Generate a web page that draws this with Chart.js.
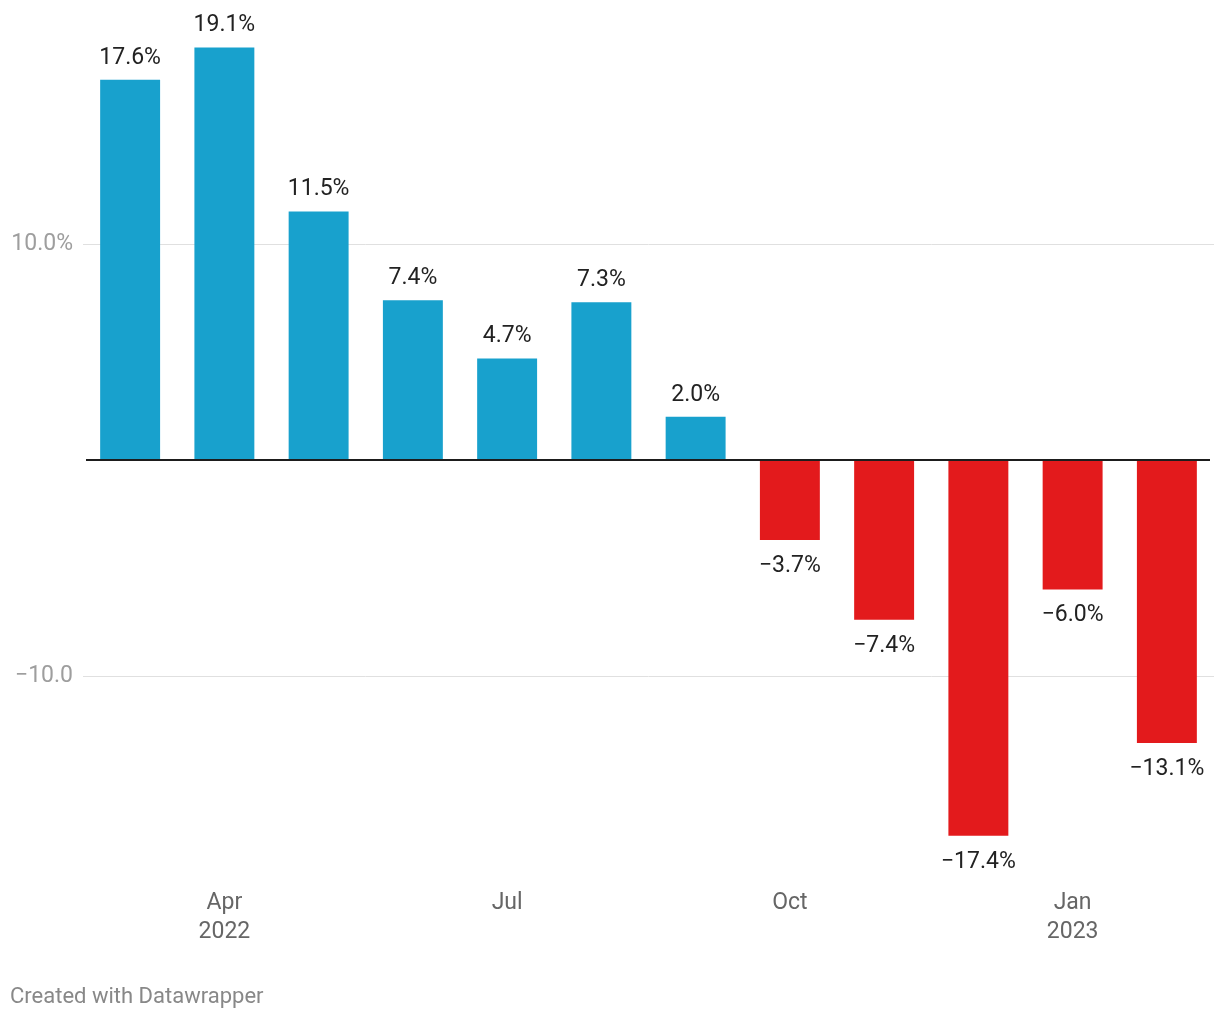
<!DOCTYPE html>
<html>
<head>
<meta charset="utf-8">
<script src="https://cdn.jsdelivr.net/npm/chart.js@4"></script>
<style>
  html, body { margin: 0; padding: 0; background: #fff; }
  #wrap { position: relative; width: 1220px; height: 1020px; }
</style>
</head>
<body>
<div id="wrap"><canvas id="changeChart" width="1220" height="1020"></canvas></div>
<script>
// Monthly change, Mar 2022 - Feb 2023
const months = ['Mar 2022', 'Apr 2022', 'May 2022', 'Jun 2022', 'Jul 2022', 'Aug 2022',
    'Sep 2022', 'Oct 2022', 'Nov 2022', 'Dec 2022', 'Jan 2023', 'Feb 2023'];
const changes = [17.6, 19.1, 11.5, 7.4, 4.7, 7.3, 2.0, -3.7, -7.4, -17.4, -6.0, -13.1];
const xTickLabels = ['', ['Apr', '2022'], '', '', 'Jul', '', '', 'Oct', '', '', ['Jan', '2023'], ''];
const yTicks = [-10, 0, 10];
const yTickLabels = { '10': '10.0%', '-10': '\u221210.0' };

const FONT = 'Roboto, "Noto Sans", sans-serif';
const MINUS = '\u2212';

function formatValue(v) {
    const s = Math.abs(v).toFixed(1) + '%';
    return v < 0 ? MINUS + s : s;
}

// Value labels above / below each bar
const valueLabels = {
    id: 'valueLabels',
    afterDatasetsDraw(chart) {
        const ctx = chart.ctx;
        const meta = chart.getDatasetMeta(0);
        ctx.save();
        ctx.font = '23px ' + FONT;
        ctx.fillStyle = '#222';
        ctx.textAlign = 'center';
        ctx.textBaseline = 'middle';
        meta.data.forEach((bar, i) => {
            const v = changes[i];
            const y = v >= 0 ? bar.y - 22 : bar.y + 26;
            ctx.fillText(formatValue(v), bar.x, y);
        });
        ctx.restore();
    }
};

// Black baseline at zero, drawn over the bars
const zeroLine = {
    id: 'zeroLine',
    afterDatasetsDraw(chart) {
        const ctx = chart.ctx;
        const y = chart.scales.y.getPixelForValue(0);
        ctx.save();
        ctx.strokeStyle = '#1d1d1d';
        ctx.lineWidth = 2;
        ctx.beginPath();
        ctx.moveTo(86, y);
        ctx.lineTo(1210, y);
        ctx.stroke();
        ctx.restore();
    }
};

const footer = {
    id: 'footer',
    afterDraw(chart) {
        const ctx = chart.ctx;
        ctx.save();
        ctx.font = '22px ' + FONT;
        ctx.fillStyle = '#888';
        ctx.textAlign = 'left';
        ctx.textBaseline = 'middle';
        ctx.fillText('Created with Datawrapper', 10, 997);
        ctx.restore();
    }
};

const ctx = document.getElementById('changeChart').getContext('2d');
new Chart(ctx, {
    type: 'bar',
    data: {
        labels: months,
        datasets: [{
            data: changes,
            backgroundColor: changes.map(v => v >= 0 ? '#18a1cd' : '#e31a1c'),
            borderWidth: 0,
            barPercentage: 0.636,
            categoryPercentage: 1
        }]
    },
    options: {
        responsive: false,
        animation: false,
        layout: { padding: { top: 28, right: 6, bottom: 51.2, left: 0 } },
        plugins: {
            legend: { display: false },
            tooltip: { enabled: false }
        },
        scales: {
            x: {
                grid: { display: false, drawTicks: false },
                border: { display: false },
                afterFit: s => { s.height = 120; },
                ticks: {
                    autoSkip: false,
                    maxRotation: 0,
                    padding: 39,
                    color: '#666',
                    font: { family: FONT, size: 23, lineHeight: 1.3 },
                    callback: (v, i) => xTickLabels[i]
                }
            },
            y: {
                min: -18,
                max: 20,
                afterFit: s => { s.width = 83; },
                afterBuildTicks: s => { s.ticks = yTicks.map(v => ({ value: v })); },
                grid: {
                    drawTicks: false,
                    color: c => c.tick && c.tick.value === 0 ? 'rgba(0,0,0,0)' : '#e0e0e0',
                    lineWidth: 1
                },
                border: { display: false },
                ticks: {
                    padding: 10,
                    color: '#9e9e9e',
                    font: { family: FONT, size: 23 },
                    callback: v => yTickLabels[String(v)] || ''
                }
            }
        }
    },
    plugins: [valueLabels, zeroLine, footer]
});
</script>
</body>
</html>
